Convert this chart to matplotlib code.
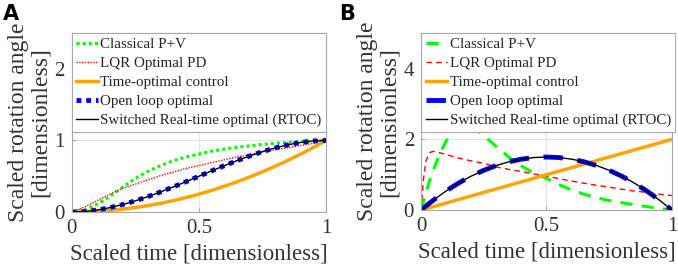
import matplotlib
matplotlib.use("Agg")
import matplotlib.pyplot as plt

# scaled time grid for panel A (position)
t_pos = [0, 0.05, 0.1, 0.15, 0.2, 0.25, 0.3, 0.35, 0.4, 0.45, 0.5,
         0.55, 0.6, 0.65, 0.7, 0.75, 0.8, 0.85, 0.9, 0.95, 1.0]
pos_classical = [0, 0.03, 0.11, 0.22, 0.35, 0.47, 0.57, 0.65, 0.72, 0.77, 0.81,
                 0.85, 0.88, 0.905, 0.925, 0.945, 0.96, 0.972, 0.984, 0.993, 1.0]
pos_lqr = [0, 0.07, 0.16, 0.25, 0.33, 0.39, 0.45, 0.51, 0.56, 0.61, 0.65,
           0.69, 0.73, 0.77, 0.80, 0.84, 0.87, 0.90, 0.93, 0.96, 0.985]
pos_timeopt = [0, 0.0025, 0.01, 0.0225, 0.04, 0.0625, 0.09, 0.1225, 0.16, 0.2025, 0.25,
               0.3025, 0.36, 0.4225, 0.49, 0.5625, 0.64, 0.7225, 0.81, 0.9025, 1.0]
pos_openloop = [0, 0.007, 0.028, 0.061, 0.104, 0.156, 0.216, 0.282, 0.352, 0.425, 0.5,
                0.575, 0.648, 0.718, 0.784, 0.844, 0.896, 0.939, 0.972, 0.993, 1.0]
pos_rtoc = [0, 0.007, 0.028, 0.061, 0.104, 0.156, 0.216, 0.282, 0.352, 0.425, 0.5,
            0.575, 0.648, 0.718, 0.784, 0.844, 0.896, 0.939, 0.972, 0.993, 1.0]

# scaled time grid for panel B (velocity)
t_vel = [0, 0.01, 0.02, 0.035, 0.05, 0.075, 0.1, 0.125, 0.15, 0.175, 0.2, 0.25, 0.3,
         0.35, 0.4, 0.45, 0.5, 0.55, 0.6, 0.65, 0.7, 0.75, 0.8, 0.85, 0.9, 0.95, 1.0]
vel_classical = [0, 0.25, 0.5, 0.85, 1.15, 1.6, 1.95, 2.22, 2.4, 2.45, 2.4, 2.1, 1.8,
                 1.5, 1.25, 1.04, 0.9, 0.72, 0.57, 0.45, 0.35, 0.27, 0.21, 0.15, 0.1, 0.05, 0.0]
vel_lqr = [0, 0.9, 1.4, 1.63, 1.66, 1.62, 1.57, 1.52, 1.47, 1.43, 1.39, 1.32, 1.22,
           1.15, 1.09, 1.02, 0.96, 0.89, 0.82, 0.76, 0.70, 0.65, 0.59, 0.54, 0.50, 0.45, 0.41]
vel_timeopt = [0, 0.02, 0.04, 0.07, 0.1, 0.15, 0.2, 0.25, 0.3, 0.35, 0.4, 0.5, 0.6,
               0.7, 0.8, 0.9, 1.0, 1.1, 1.2, 1.3, 1.4, 1.5, 1.6, 1.7, 1.8, 1.9, 2.0]
vel_openloop = [0, 0.059, 0.118, 0.203, 0.285, 0.416, 0.54, 0.656, 0.765, 0.866, 0.96, 1.125, 1.26,
                1.365, 1.44, 1.485, 1.5, 1.485, 1.44, 1.365, 1.26, 1.125, 0.96, 0.765, 0.54, 0.285, 0]
vel_rtoc = [0, 0.059, 0.118, 0.203, 0.285, 0.416, 0.54, 0.656, 0.765, 0.866, 0.96, 1.125, 1.26,
            1.365, 1.44, 1.485, 1.5, 1.485, 1.44, 1.365, 1.26, 1.125, 0.96, 0.765, 0.54, 0.285, 0]

labels = ["Classical P+V", "LQR Optimal PD", "Time-optimal control",
          "Open loop optimal", "Switched Real-time optimal (RTOC)"]

plt.rcParams['font.family'] = ['Liberation Serif', 'DejaVu Serif']

fig = plt.figure(figsize=(6.78, 2.67), dpi=100)
axA = fig.add_axes([0.106, 0.206, 0.375, 0.670])
axB = fig.add_axes([0.621, 0.213, 0.370, 0.663])

GREEN = '#00ff00'
RED = '#ff0000'
ORANGE = '#ffa500'
BLUE = '#0000ff'

# panel A
axA.plot(t_pos, pos_classical, color=GREEN, ls=(0, (1, 1)), lw=2.2, label=labels[0])
axA.plot(t_pos, pos_lqr, color=RED, ls=(0, (1, 1)), lw=1.0, label=labels[1])
axA.plot(t_pos, pos_timeopt, color=ORANGE, lw=2.5, label=labels[2])
axA.plot(t_pos, pos_openloop, color=BLUE, ls=(0, (1, 1)), lw=3.5, label=labels[3])
axA.plot(t_pos, pos_rtoc, color='black', lw=1.0, label=labels[4])
axA.set_ylim(0, 2.5)
axA.set_yticks([0, 1, 2])

# panel B
axB.plot(t_vel, vel_classical, color=GREEN, ls=(0, (4, 3)), lw=2.2, label=labels[0])
axB.plot(t_vel, vel_lqr, color=RED, ls=(0, (4, 3)), lw=1.0, label=labels[1])
axB.plot(t_vel, vel_timeopt, color=ORANGE, lw=2.5, label=labels[2])
axB.plot(t_vel, vel_openloop, color=BLUE, ls=(0, (4, 3)), lw=3.5, label=labels[3])
axB.plot(t_vel, vel_rtoc, color='black', lw=1.0, label=labels[4])
axB.set_ylim(0, 5)
axB.set_yticks([0, 2, 4])

for ax in [axA, axB]:
    ax.set_xlim(0, 1)
    ax.set_xticks([0, 0.5, 1])
    ax.set_xticklabels(['0', '0.5', '1'])
    ax.grid(True, color='#e3e3e3', lw=0.8)
    ax.set_axisbelow(True)
    for s in ax.spines.values():
        s.set_color('#a8a8a8')
        s.set_linewidth(0.8)
    ax.tick_params(direction='in', length=3, color='#a8a8a8', labelsize=15,
                   labelcolor='#333333', pad=5, top=True, right=True)
    ax.set_xlabel('Scaled time [dimensionless]', fontsize=16.5, color='#333333', labelpad=4)
    ax.set_ylabel('Scaled rotation angle\n[dimensionless]', fontsize=17, color='#333333',
                  linespacing=1.0, labelpad=3)
    leg = ax.legend(loc='upper left', fontsize=10.8, handlelength=1.45, handletextpad=0.15,
                    borderaxespad=0.0, borderpad=0.3, labelspacing=0.37, framealpha=1,
                    fancybox=False, edgecolor='#a8a8a8')
    leg.get_frame().set_linewidth(0.8)
    for txt in leg.get_texts():
        txt.set_color('#222222')

fig.text(0.004, 0.985, 'A', fontsize=15, fontweight='bold', family='DejaVu Sans', va='top')
fig.text(0.500, 0.985, 'B', fontsize=15, fontweight='bold', family='DejaVu Sans', va='top')

fig.savefig('out.png', dpi=100)
